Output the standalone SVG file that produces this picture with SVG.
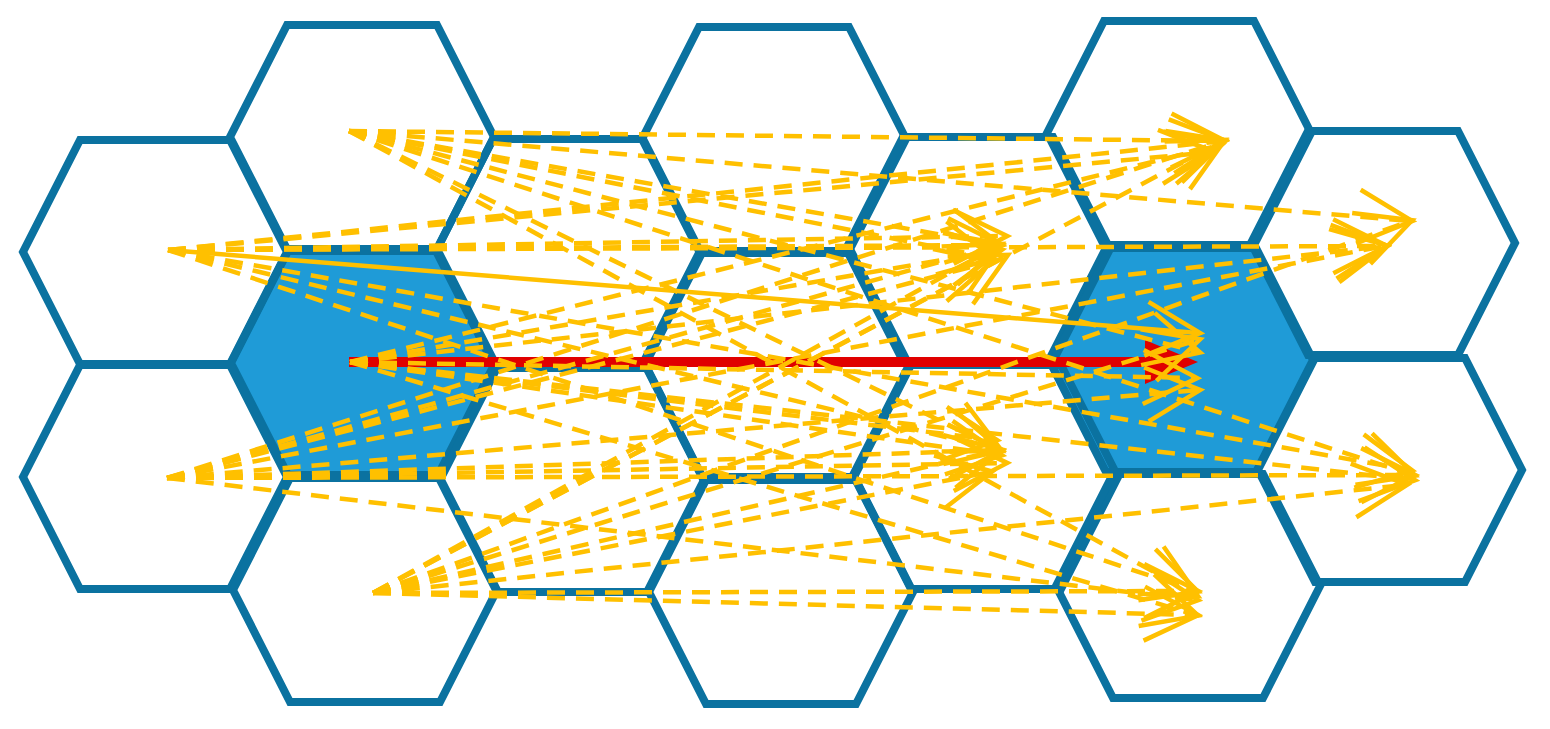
<svg xmlns="http://www.w3.org/2000/svg" width="1550" height="729" viewBox="0 0 1550 729">
<defs>
<style>
.hex{fill:none;stroke:#0b72a0;stroke-width:8;stroke-linejoin:miter}
.hexb{fill:#1f9bd7;stroke:#0b72a0;stroke-width:8;stroke-linejoin:miter}
.y{fill:none;stroke:#ffc000;stroke-width:4.5;stroke-dasharray:18 11;marker-end:url(#ah)}
.ys{fill:none;stroke:#ffc000;stroke-width:4.5;marker-end:url(#ah)}
</style>
<marker id="ah" viewBox="0 0 12 12" refX="11.5" refY="6" markerWidth="12" markerHeight="12" orient="auto" markerUnits="strokeWidth" overflow="visible">
<path d="M0,0 L12,6 L0,12" fill="none" stroke="#ffc000" stroke-width="1"/>
</marker>
</defs>
<rect width="1550" height="729" fill="#ffffff"/>
<g id="hexagons">
<polygon id="h1b" class="hexb" points="288,251 438,251 495,363 438,475 288,475 231,363"/>
<polygon id="h5b" class="hexb" points="1106,248 1256,248 1313,360 1256,472 1106,472 1049,360"/>
<polygon id="h0a" class="hex" points="80,140 230,140 287,252 230,364 80,364 23,252"/>
<polygon id="h0b" class="hex" points="80,365 230,365 287,477 230,589 80,589 23,477"/>
<polygon id="h1a" class="hex" points="287,25 437,25 494,137 437,249 287,249 230,137"/>
<polygon id="h1c" class="hex" points="290,478 440,478 497,590 440,702 290,702 233,590"/>
<polygon id="h2a" class="hex" points="493,139 643,139 700,251 643,363 493,363 436,251"/>
<polygon id="h2b" class="hex" points="497,368 647,368 704,480 647,592 497,592 440,480"/>
<polygon id="h3a" class="hex" points="699,27 849,27 906,139 849,251 699,251 642,139"/>
<polygon id="h3b" class="hex" points="702,253 852,253 909,365 852,477 702,477 645,365"/>
<polygon id="h3c" class="hex" points="706,480 856,480 913,592 856,704 706,704 649,592"/>
<polygon id="h4a" class="hex" points="903,137 1053,137 1110,249 1053,361 903,361 846,249"/>
<polygon id="h4b" class="hex" points="911,365 1061,365 1118,477 1061,589 911,589 854,477"/>
<polygon id="h5a" class="hex" points="1104,21 1254,21 1311,133 1254,245 1104,245 1047,133"/>
<polygon id="h5c" class="hex" points="1113,474 1263,474 1320,586 1263,698 1113,698 1056,586"/>
<polygon id="h6a" class="hex" points="1308,131 1458,131 1515,243 1458,355 1308,355 1251,243"/>
<polygon id="h6b" class="hex" points="1315,358 1465,358 1522,470 1465,582 1315,582 1258,470"/>
</g>
<g id="red-arrow">
<line x1="349" y1="362" x2="1150" y2="362" stroke="#e00000" stroke-width="10"/>
<polygon points="1198,362 1145,340 1145,384" fill="#e00000"/>
</g>
<g id="connectors">
<line class="y" x1="349" y1="131" x2="1223" y2="141"/>
<line class="y" x1="349" y1="131" x2="1410" y2="221"/>
<line class="y" x1="349" y1="131" x2="1000" y2="245"/>
<line class="y" x1="349" y1="131" x2="992" y2="258"/>
<line class="y" x1="349" y1="131" x2="1198" y2="352"/>
<line class="y" x1="349" y1="131" x2="1000" y2="450"/>
<line class="y" x1="349" y1="131" x2="1413" y2="475"/>
<line class="y" x1="349" y1="131" x2="1196" y2="595"/>
<line class="y" x1="168" y1="250" x2="1223" y2="141"/>
<line class="y" x1="168" y1="250" x2="1212" y2="152"/>
<line class="y" x1="168" y1="250" x2="1385" y2="246"/>
<line class="y" x1="168" y1="250" x2="1000" y2="245"/>
<line class="y" x1="168" y1="250" x2="1005" y2="236"/>
<line class="ys" x1="168" y1="250" x2="1198" y2="333"/>
<line class="y" x1="168" y1="250" x2="1000" y2="450"/>
<line class="y" x1="168" y1="250" x2="1410" y2="470"/>
<line class="y" x1="168" y1="250" x2="1196" y2="591"/>
<line class="y" x1="350" y1="362" x2="1220" y2="145"/>
<line class="y" x1="350" y1="362" x2="1385" y2="246"/>
<line class="y" x1="350" y1="362" x2="1000" y2="250"/>
<line class="y" x1="350" y1="362" x2="1195" y2="378"/>
<line class="y" x1="350" y1="362" x2="1000" y2="455"/>
<line class="y" x1="350" y1="362" x2="995" y2="440"/>
<line class="y" x1="350" y1="362" x2="1413" y2="480"/>
<line class="y" x1="350" y1="362" x2="1196" y2="615"/>
<line class="y" x1="167" y1="478" x2="1223" y2="141"/>
<line class="y" x1="167" y1="478" x2="1385" y2="246"/>
<line class="y" x1="167" y1="478" x2="1000" y2="245"/>
<line class="y" x1="167" y1="478" x2="990" y2="262"/>
<line class="y" x1="167" y1="478" x2="1198" y2="390"/>
<line class="y" x1="167" y1="478" x2="1000" y2="450"/>
<line class="y" x1="167" y1="478" x2="1005" y2="463"/>
<line class="y" x1="167" y1="478" x2="1413" y2="475"/>
<line class="y" x1="167" y1="478" x2="1196" y2="600"/>
<line class="y" x1="373" y1="593" x2="1223" y2="141"/>
<line class="y" x1="373" y1="593" x2="1410" y2="221"/>
<line class="y" x1="373" y1="593" x2="1000" y2="245"/>
<line class="y" x1="373" y1="593" x2="1006" y2="256"/>
<line class="y" x1="373" y1="593" x2="1198" y2="340"/>
<line class="y" x1="373" y1="593" x2="1000" y2="450"/>
<line class="y" x1="373" y1="593" x2="990" y2="472"/>
<line class="y" x1="373" y1="593" x2="1405" y2="485"/>
<line class="y" x1="373" y1="593" x2="1196" y2="591"/>
<line class="y" x1="373" y1="593" x2="1196" y2="615"/>
</g>
</svg>
